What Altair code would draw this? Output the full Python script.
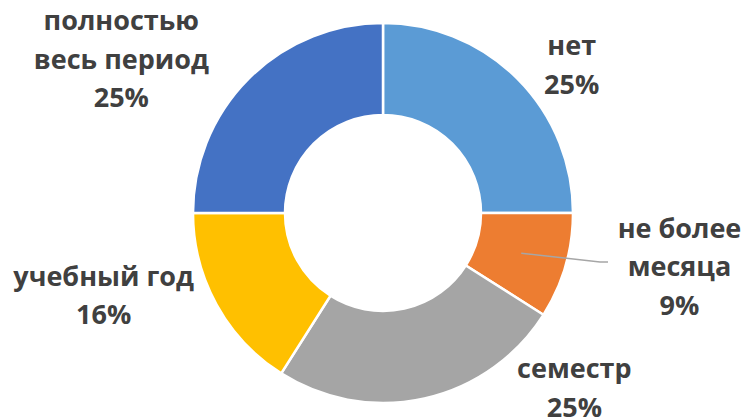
import math
import altair as alt
import pandas as pd

categories = ["нет", "не более месяца", "семестр", "учебный год", "полностью весь период"]
label_lines = [["нет"], ["не более", "месяца"], ["семестр"], ["учебный год"], ["полностью", "весь период"]]
values = [25, 9, 25, 16, 25]
colors = ["#5B9BD5", "#ED7D31", "#A5A5A5", "#FFC000", "#4472C4"]

CX, CY = 383, 213
R_OUT, R_IN = 190, 98
R_LAB = 240
FONT = "Open Sans"
FS = 27
LH = 38.5
TXT = "#404040"

# label offsets (first line) relative to the mid-angle anchor (style)
offsets = [(19, 4), (66, -50), (139, -77), (-69, -51), (-92, -21)]

df = pd.DataFrame({
    "cat": categories,
    "val": values,
    "order": list(range(len(categories))),
    "label": ["\n".join(l + [f"{v}%"]) for l, v in zip(label_lines, values)],
})

color_scale = alt.Scale(domain=categories, range=colors)

base = alt.Chart(df).encode(
    theta=alt.Theta("val:Q", stack=True),
    order=alt.Order("order:Q"),
)

arcs = base.mark_arc(
    outerRadius=R_OUT, innerRadius=R_IN, stroke="white", strokeWidth=2.5
).encode(
    color=alt.Color("cat:N", scale=color_scale, legend=None),
    x=alt.value(CX), y=alt.value(CY),
)

layers = [arcs]
for i, c in enumerate(categories):
    dx, dy = offsets[i]
    txt = alt.Chart(df).transform_joinaggregate(
        total="sum(val)"
    ).transform_window(
        cum="sum(val)", sort=[alt.SortField("order")]
    ).transform_calculate(
        mid="(datum.cum - datum.val/2) / datum.total * 2 * PI"
    ).transform_filter(
        alt.datum.cat == c
    ).transform_calculate(
        px=f"{CX} + {R_LAB} * sin(datum.mid) + {dx}",
        py=f"{CY} - {R_LAB} * cos(datum.mid) + {dy}",
    ).mark_text(
        font=FONT, fontSize=FS, fontWeight="bold", color=TXT,
        lineBreak="\n", lineHeight=LH, align="center", baseline="middle",
    ).encode(
        x=alt.X("px:Q", scale=None),
        y=alt.Y("py:Q", scale=None),
        text="label:N",
    )
    layers.append(txt)

# leader line for the small slice (не более месяца)
cum = 0
for c, v in zip(categories, values):
    if c == "не более месяца":
        mid = (cum + v / 2) / sum(values) * 2 * math.pi
        break
    cum += v
sx = CX + 144 * math.sin(mid)
sy = CY - 144 * math.cos(mid)
leader = pd.DataFrame({"x": [sx, 600, 608], "y": [sy, 262, 262], "o": [0, 1, 2]})
line = alt.Chart(leader).mark_line(color="#A6A6A6", strokeWidth=1.5).encode(
    x=alt.X("x:Q", scale=None),
    y=alt.Y("y:Q", scale=None),
    order="o:Q",
)
layers.insert(1, line)

chart = alt.layer(*layers).properties(
    width=745, height=418, padding=0, autosize="none"
).configure_view(stroke=None)

chart.save("out.html", embed_options={"renderer": "svg", "actions": False})
